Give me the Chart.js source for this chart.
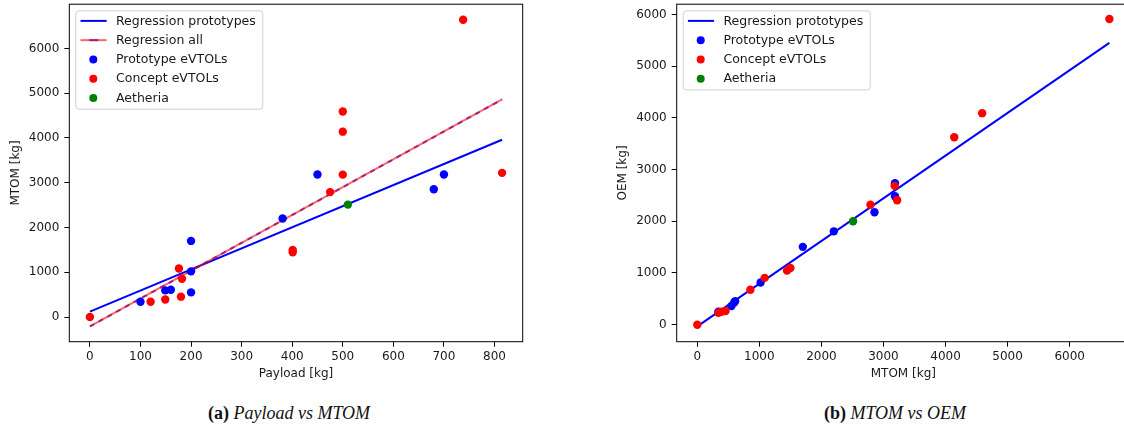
<!DOCTYPE html>
<html>
<head>
<meta charset="utf-8">
<script src="https://cdn.jsdelivr.net/npm/chart.js@4.4.1/dist/chart.umd.min.js"></script>
<style>
  html, body { margin:0; padding:0; background:#fff; width:1124px; height:427px; overflow:hidden; }
  .wrap { position:absolute; top:0; }
  canvas { display:block; }
  .cap { position:absolute; top:403px; font-family:"Liberation Serif","DejaVu Serif",serif; font-size:18px; color:#111; white-space:nowrap; transform:translateX(-50%); }
  .cap i { font-style:italic; }
</style>
</head>
<body>
<div class="wrap" style="left:0px;width:540px;height:392px;"><canvas id="c1" width="540" height="392"></canvas></div>
<div class="wrap" style="left:600px;width:550px;height:392px;"><canvas id="c2" width="550" height="392"></canvas></div>
<div class="cap" style="left:289px;"><b>(a)</b> <i>Payload vs MTOM</i></div>
<div class="cap" style="left:895px;"><b>(b)</b> <i>MTOM vs OEM</i></div>
<script>
// ---------- data ----------
const payloadProto = [100, 149, 160, 200, 200, 200, 381, 450, 680, 700];
const mtomProto    = [340, 595, 610, 550, 1020, 1700, 2200, 3185, 2855, 3185];
const oemProto     = [250, 430, 455, 360, 815, 1505, 1805, 2735, 2175, 2485];

const payloadConcept = [0, 738, 500, 500, 500, 815, 475, 401, 401, 176, 182, 120, 149, 180];
const mtomConcept    = [0, 6640, 4590, 4140, 3180, 3220, 2790, 1500, 1445, 1085, 855, 340, 390, 455];
const oemConcept     = [0, 5910, 4090, 3625, 2685, 2405, 2320, 1095, 1045, 905, 675, 230, 250, 265];

const payloadAetheria = [510];
const mtomAetheria    = [2510];
const oemAetheria     = [2000];

// regression line end points
const regProtoPayloadX = [0, 815];
const regProtoMtomY    = [120, 3960];
const regAllPayloadX   = [0, 815];
const regAllMtomY      = [-210, 4860];
const regProtoMtomX    = [0, 6640];
const regProtoOemY     = [-32, 5450];

const ticksA_x = [0, 100, 200, 300, 400, 500, 600, 700, 800];
const ticksA_y = [0, 1000, 2000, 3000, 4000, 5000, 6000];
const ticksB_x = [0, 1000, 2000, 3000, 4000, 5000, 6000];
const ticksB_y = [0, 1000, 2000, 3000, 4000, 5000, 6000];

const labels = {
  regProto: 'Regression prototypes',
  regAll: 'Regression all',
  proto: 'Prototype eVTOLs',
  concept: 'Concept eVTOLs',
  aeth: 'Aetheria'
};

const pts = (xs, ys) => xs.map((x, i) => ({ x: x, y: ys[i] }));

const FONT = 'DejaVu Sans';
const TXT = '#1a1a1a';
const FS = 12;

// ---------- plugins ----------
const framePlugin = {
  id: 'frame',
  afterDraw(chart) {
    const a = chart.chartArea, ctx = chart.ctx;
    ctx.save();
    ctx.strokeStyle = '#000';
    ctx.lineWidth = 1;
    ctx.strokeRect(a.left, a.top, a.right - a.left, a.bottom - a.top);
    ctx.restore();
  }
};

const mplLegend = {
  id: 'mplLegend',
  afterDatasetsDraw(chart) {
    const items = chart.options.plugins.mplLegend.items;
    const a = chart.chartArea, ctx = chart.ctx;
    ctx.save();
    ctx.font = '12.5px "' + FONT + '"';
    let maxW = 0;
    items.forEach(it => { maxW = Math.max(maxW, ctx.measureText(it.label).width); });
    const bx = a.left + 6.5, by = a.top + 6.7;
    const rowH = 19.25;
    const bw = 40.2 + maxW + 7;
    const bh = items.length * rowH + 2;
    const r = 3;
    ctx.beginPath();
    ctx.moveTo(bx + r, by);
    ctx.lineTo(bx + bw - r, by); ctx.quadraticCurveTo(bx + bw, by, bx + bw, by + r);
    ctx.lineTo(bx + bw, by + bh - r); ctx.quadraticCurveTo(bx + bw, by + bh, bx + bw - r, by + bh);
    ctx.lineTo(bx + r, by + bh); ctx.quadraticCurveTo(bx, by + bh, bx, by + bh - r);
    ctx.lineTo(bx, by + r); ctx.quadraticCurveTo(bx, by, bx + r, by);
    ctx.closePath();
    ctx.fillStyle = 'rgba(255,255,255,0.8)';
    ctx.fill();
    ctx.strokeStyle = '#d0d0d0';
    ctx.lineWidth = 1;
    ctx.stroke();
    items.forEach((it, i) => {
      const cy = a.top + 16.7 + i * rowH;
      const x0 = a.left + 11.2, x1 = a.left + 37.4, xm = a.left + 24;
      if (it.kind === 'line') {
        ctx.beginPath(); ctx.moveTo(x0, cy); ctx.lineTo(x1, cy);
        ctx.strokeStyle = it.color; ctx.lineWidth = 2; ctx.setLineDash([]); ctx.stroke();
      } else if (it.kind === 'dual') {
        ctx.beginPath(); ctx.moveTo(xm - 4, cy); ctx.lineTo(xm + 5, cy);
        ctx.strokeStyle = 'rgba(0,0,255,0.75)'; ctx.lineWidth = 2; ctx.stroke();
        ctx.beginPath(); ctx.moveTo(x0, cy); ctx.lineTo(x1, cy);
        ctx.strokeStyle = 'rgba(255,0,0,0.6)'; ctx.lineWidth = 2; ctx.stroke();
      } else {
        ctx.beginPath(); ctx.arc(xm, cy, 4, 0, Math.PI * 2);
        ctx.fillStyle = it.color; ctx.fill();
      }
      ctx.fillStyle = TXT;
      ctx.textBaseline = 'middle';
      ctx.textAlign = 'left';
      ctx.fillText(it.label, a.left + 46.7, cy + 0.5);
    });
    ctx.restore();
  }
};

function axis(min, max, ticks, title, isX, fixedSize, titlePad) {
  return {
    type: 'linear',
    min: min, max: max,
    afterBuildTicks: s => { s.ticks = ticks.map(v => ({ value: v })); },
    afterFit: s => {
      if (isX) s.height = fixedSize; else s.width = fixedSize;
      s.paddingTop = 0; s.paddingBottom = 0; s.paddingLeft = 0; s.paddingRight = 0;
    },
    grid: { display: true, drawOnChartArea: false, drawTicks: true, tickLength: 5, color: '#000', tickWidth: 1 },
    border: { display: false },
    ticks: { font: { family: FONT, size: FS }, color: TXT, padding: isX ? 3 : 5, maxRotation: 0, autoSkip: false,
             callback: v => String(v) },
    title: { display: true, text: title, font: { family: FONT, size: FS }, color: TXT,
             padding: { top: titlePad, bottom: titlePad } }
  };
}

function scatterDs(label, data, color, order) {
  return { label: label, data: data, type: 'scatter', backgroundColor: color, borderWidth: 0,
           pointRadius: 4.2, pointHoverRadius: 4.2, order: order };
}
function lineDs(label, data, color, width, dash, order) {
  return { label: label, data: data, type: 'line', showLine: true, borderColor: color, borderWidth: width,
           borderDash: dash, pointRadius: 0, fill: false, order: order, tension: 0 };
}

const common = {
  responsive: false, animation: false, devicePixelRatio: 1,
  plugins: { legend: { display: false }, tooltip: { enabled: false } },
  events: []
};

// ---------- chart (a) ----------
new Chart(document.getElementById('c1'), {
  type: 'scatter',
  data: {
    datasets: [
      scatterDs(labels.aeth, pts(payloadAetheria, mtomAetheria), '#008000', 1),
      scatterDs(labels.concept, pts(payloadConcept, mtomConcept), '#ff0000', 2),
      scatterDs(labels.proto, pts(payloadProto, mtomProto), '#0000ff', 3),
      lineDs(labels.regAll, pts(regAllPayloadX, regAllMtomY), 'rgba(255,0,0,0.6)', 2, [], 4),
      lineDs(labels.regAll + ' dash', pts(regAllPayloadX, regAllMtomY), 'rgba(0,0,255,0.7)', 2, [5, 5], 5),
      lineDs(labels.regProto, pts(regProtoPayloadX, regProtoMtomY), '#0000ff', 2, [], 6)
    ]
  },
  options: Object.assign({}, common, {
    layout: { padding: { top: 4, right: 17.3, bottom: 0, left: 0 } },
    scales: {
      x: axis(-40.75, 855.75, ticksA_x, 'Payload [kg]', true, 50.3, 10.5),
      y: axis(-551, 6987, ticksA_y, 'MTOM [kg]', false, 69.3, 9)
    },
    plugins: Object.assign({}, common.plugins, {
      mplLegend: { items: [
        { kind: 'line', color: '#0000ff', label: labels.regProto },
        { kind: 'dual', label: labels.regAll },
        { kind: 'pt', color: '#0000ff', label: labels.proto },
        { kind: 'pt', color: '#ff0000', label: labels.concept },
        { kind: 'pt', color: '#008000', label: labels.aeth }
      ] }
    })
  }),
  plugins: [framePlugin, mplLegend]
});

// ---------- chart (b) ----------
new Chart(document.getElementById('c2'), {
  type: 'scatter',
  data: {
    datasets: [
      scatterDs(labels.aeth, pts(mtomAetheria, oemAetheria), '#008000', 1),
      scatterDs(labels.concept, pts(mtomConcept, oemConcept), '#ff0000', 2),
      scatterDs(labels.proto, pts(mtomProto, oemProto), '#0000ff', 3),
      lineDs(labels.regProto, pts(regProtoMtomX, regProtoOemY), '#0000ff', 2, [], 6)
    ]
  },
  options: Object.assign({}, common, {
    layout: { padding: { top: 4, right: 20, bottom: 0, left: 0 } },
    scales: {
      x: axis(-332, 6972, ticksB_x, 'MTOM [kg]', true, 50.3, 10.5),
      y: axis(-329, 6197, ticksB_y, 'OEM [kg]', false, 76.7, 15.5)
    },
    plugins: Object.assign({}, common.plugins, {
      mplLegend: { items: [
        { kind: 'line', color: '#0000ff', label: labels.regProto },
        { kind: 'pt', color: '#0000ff', label: labels.proto },
        { kind: 'pt', color: '#ff0000', label: labels.concept },
        { kind: 'pt', color: '#008000', label: labels.aeth }
      ] }
    })
  }),
  plugins: [framePlugin, mplLegend]
});
</script>
</body>
</html>
